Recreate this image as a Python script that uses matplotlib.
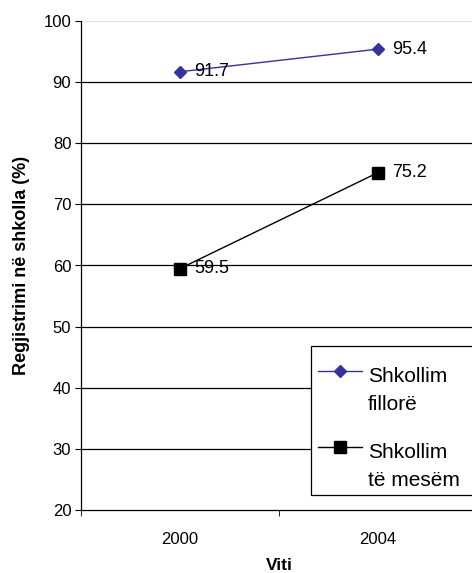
import matplotlib
matplotlib.use('Agg')
import matplotlib.pyplot as plt
from matplotlib.lines import Line2D
from matplotlib.patches import Rectangle

plt.rcParams['font.family'] = ['Liberation Sans', 'DejaVu Sans']

years = ['2000', '2004']
fillore = [91.7, 95.4]
mesem = [59.5, 75.2]
series_names = [['Shkollim', 'fillorë'], ['Shkollim', 'të mesëm']]

W, H = 472, 573
fig = plt.figure(figsize=(W/100, H/100), dpi=100)
ax = fig.add_axes([81/W, 1-510/H, 396/W, 489/H])

def fx(px):
    return px / W

def fy(py):
    return 1 - py / H

x = range(len(years))
ax.plot(x, fillore, color='#333399', marker='D', markersize=6, linewidth=1, zorder=3)
ax.plot(x, mesem, color='black', marker='s', markersize=8, linewidth=1, zorder=3)

# data labels to the right of each point
for xi, v in zip(x, fillore):
    ax.annotate(f'{v}', (xi, v), xytext=(10, 0), textcoords='offset points',
                va='center', ha='left', fontsize=13)
for xi, v in zip(x, mesem):
    ax.annotate(f'{v}', (xi, v), xytext=(10, 0), textcoords='offset points',
                va='center', ha='left', fontsize=13)

ax.set_xlim(-0.5, 1.5)
ax.set_ylim(20, 100)
ax.set_yticks(range(20, 101, 10))
ax.set_xticks(list(x))
ax.set_xticklabels(years)
ax.set_xticks([-0.5, 0.5, 1.5], minor=True)
ax.tick_params(axis='x', which='major', length=0, pad=16, labelsize=12)
ax.tick_params(axis='x', which='minor', length=4, direction='out')
ax.tick_params(axis='y', length=4, direction='out', labelsize=12, pad=3)

# gridlines
for g in range(30, 100, 10):
    ax.axhline(g, color='black', linewidth=0.9, zorder=1)
ax.axhline(100, color='#e0e0e0', linewidth=0.9, zorder=1)

for s in ['top', 'right']:
    ax.spines[s].set_visible(False)
ax.spines['left'].set_linewidth(0.9)
ax.spines['bottom'].set_linewidth(0.9)

# axis titles placed directly so they stay inside the small figure
fig.text(fx(279), fy(566), 'Viti', fontweight='bold', fontsize=12.5,
         ha='center', va='center')
fig.text(fx(22), fy(265), 'Regjistrimi në shkolla (%)', fontweight='bold',
         fontsize=13, rotation=90, ha='center', va='center')

# legend, handle aligned with the first text line like Excel does
fig.patches.append(Rectangle((fx(311), fy(495)), fx(480) - fx(311), fy(346) - fy(495),
                             transform=fig.transFigure, facecolor='white',
                             edgecolor='black', linewidth=0.9, zorder=5))
styles = [dict(color='#333399', marker='D', markersize=6),
          dict(color='black', marker='s', markersize=8)]
handle_y = [371, 447]
text_y = [[382, 410], [458, 486]]
for st, hy, ty, name in zip(styles, handle_y, text_y, series_names):
    fig.add_artist(Line2D([fx(318), fx(362)], [fy(hy), fy(hy)], linewidth=1,
                          transform=fig.transFigure, zorder=6, color=st['color']))
    fig.add_artist(Line2D([fx(340)], [fy(hy)], linestyle='none',
                          transform=fig.transFigure, zorder=6, **st))
    for t, yy in zip(name, ty):
        fig.text(fx(368), fy(yy), t, fontsize=15, va='baseline', ha='left', zorder=6)

plt.savefig('out.png', dpi=100)
